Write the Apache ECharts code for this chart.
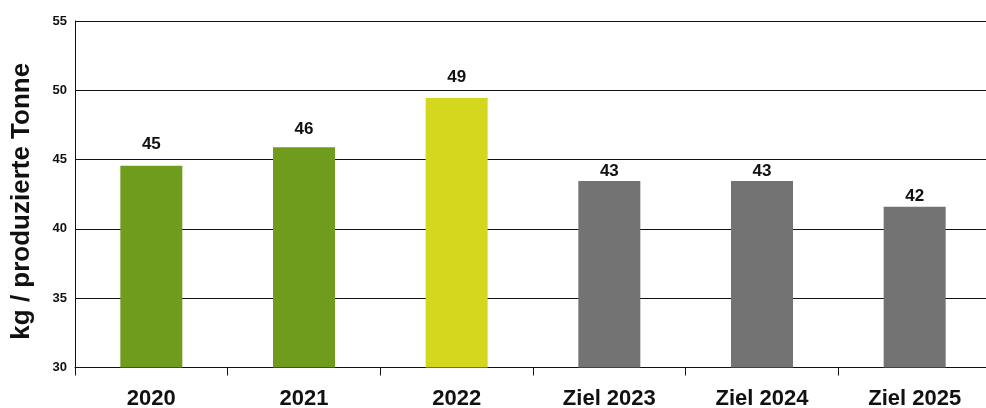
<!DOCTYPE html>
<html>
<head>
<meta charset="utf-8">
<script src="https://cdn.jsdelivr.net/npm/echarts@6/dist/echarts.min.js"></script>
<style>
  html, body { margin: 0; padding: 0; background: #fff; }
  #chart { width: 986px; height: 408px; }
</style>
</head>
<body>
<div id="chart"></div>
<script>
// Abfall je produzierter Tonne: Ist-Werte und Ziele
const categories = ['2020', '2021', '2022', 'Ziel 2023', 'Ziel 2024', 'Ziel 2025'];
const values = [44.55, 45.9, 49.45, 43.45, 43.45, 41.6];
const yTicks = { min: 30, max: 55, step: 5 };
const axisTitle = 'kg / produzierte Tonne';

// Darstellung
const barColors = ['#6f9c1c', '#6f9c1c', '#d3d81e', '#737373', '#737373', '#737373'];
const labelGaps = [13, 9, 12, 1, 1, 2];
const FONT = '"Liberation Sans", Arial, Helvetica, sans-serif';

const chart = echarts.init(document.getElementById('chart'), null, { renderer: 'canvas' });

chart.setOption({
  animation: false,
  backgroundColor: '#ffffff',
  // Plotfläche läuft rechts etwas über den Rand hinaus
  grid: {
    left: 75, width: 916, top: 21, bottom: 40.5,
    containLabel: false, outerBoundsMode: 'none'
  },
  xAxis: {
    type: 'category',
    data: categories,
    axisLine: { show: true, lineStyle: { color: '#111', width: 1 } },
    axisTick: { show: true, length: 8, alignWithLabel: false, lineStyle: { color: '#111', width: 1 } },
    axisLabel: {
      color: '#111', fontFamily: FONT, fontWeight: 'bold', fontSize: 22, margin: 20
    }
  },
  yAxis: {
    type: 'value',
    min: yTicks.min,
    max: yTicks.max,
    interval: yTicks.step,
    name: axisTitle,
    nameLocation: 'middle',
    nameRotate: 90,
    nameGap: 40,
    nameTextStyle: {
      color: '#111', fontFamily: FONT, fontWeight: 'bold', fontSize: 26,
      padding: [0, 14, 0, 0]
    },
    axisLine: { show: true, lineStyle: { color: '#111', width: 1 } },
    axisTick: { show: false },
    axisLabel: { color: '#111', fontFamily: FONT, fontWeight: 'bold', fontSize: 13, margin: 8 },
    splitLine: { show: true, lineStyle: { color: '#111', width: 1 } }
  },
  series: [{
    type: 'bar',
    barWidth: 62,
    data: values.map((v, i) => ({
      value: v,
      itemStyle: { color: barColors[i] },
      label: { distance: labelGaps[i] }
    })),
    label: {
      show: true,
      position: 'top',
      color: '#111',
      fontFamily: FONT,
      fontWeight: 'bold',
      fontSize: 17,
      formatter: p => String(Math.round(p.value))
    }
  }]
});
</script>
</body>
</html>
